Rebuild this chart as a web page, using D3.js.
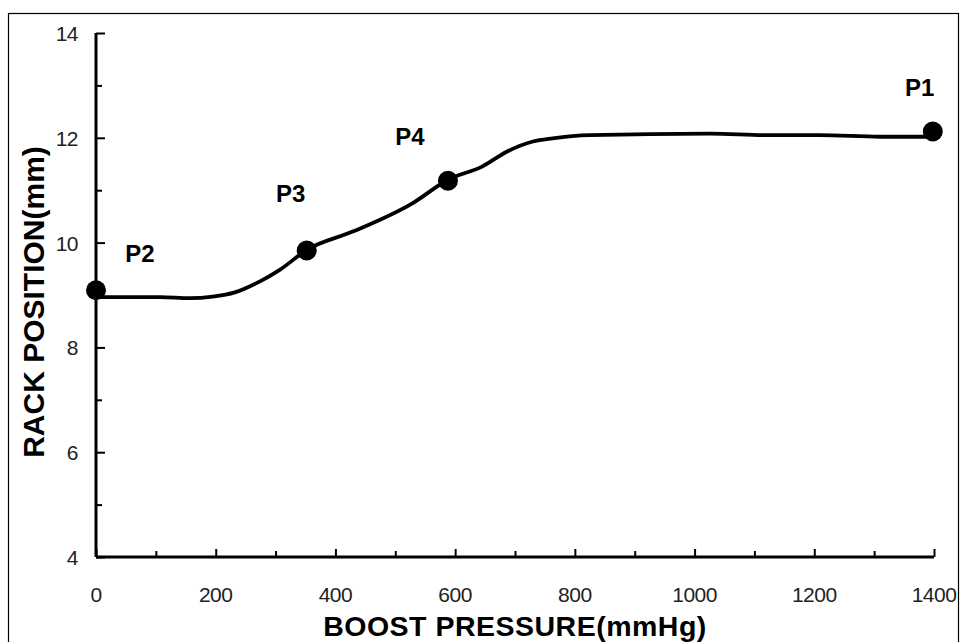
<!DOCTYPE html>
<html><head><meta charset="utf-8">
<script src="https://cdn.jsdelivr.net/npm/d3@7"></script>
<style>body{margin:0;background:#fff}svg{display:block}</style>
</head><body>
<svg id="c" width="963" height="642"></svg>
<script>
const curveX = [0,107,157,195,232,274,307,352,429,530,588,645,687,730,763,825,1026,1121,1209,1310,1398];
const curveY = [8.96,8.96,8.94,8.97,9.05,9.26,9.48,9.86,10.21,10.76,11.20,11.45,11.74,11.93,11.99,12.05,12.08,12.05,12.05,12.02,12.02];
const pointNames = ["P1","P2","P3","P4"];
const pointX = [1398,0,352,588];
const pointY = [12.12,9.09,9.85,11.18];
const xTicks = [0,200,400,600,800,1000,1200,1400];
const yTicks = [4,6,8,10,12,14];
const xTitle = "BOOST PRESSURE(mmHg)";
const yTitle = "RACK POSITION(mm)";

const svg = d3.select("#c");
svg.append("rect").attr("x",8.5).attr("y",13.5).attr("width",950).attr("height",700)
  .attr("fill","none").attr("stroke","#000").attr("stroke-width",1.2);

const x = d3.scaleLinear().domain([0,1400]).range([96,934]);
const y = d3.scaleLinear().domain([4,14]).range([557,33]);

const tickFont = "'Liberation Sans', Arial, sans-serif";
// x axis
const gx = svg.append("g").attr("transform","translate(0,557)");
gx.call(d3.axisTop(x).tickValues(d3.range(0,1401,100)).tickSize(7).tickFormat(""));
gx.select(".domain").attr("stroke-width",3).attr("d",`M${x(0)},0H${x(1400)}`);
gx.selectAll(".tick line").attr("stroke-width",2).attr("y2",d=>d%200===0?-8:-6);
svg.append("g").selectAll("text").data(xTicks).join("text")
  .attr("x",d=>x(d)).attr("y",602).attr("text-anchor","middle")
  .attr("font-family",tickFont).attr("font-size",21).attr("fill","#222")
  .attr("letter-spacing",-0.5).text(d=>d);

// y axis
const gy = svg.append("g").attr("transform","translate(96,0)");
gy.call(d3.axisRight(y).tickValues(d3.range(4,14.01,1)).tickSize(8).tickFormat(""));
gy.select(".domain").attr("stroke-width",3).attr("d",`M0,${y(4)}V${y(14)}`);
gy.selectAll(".tick line").attr("stroke-width",2).attr("x2",d=>d%2===0?9:6);
svg.append("g").selectAll("text").data(yTicks).join("text")
  .attr("x",78).attr("y",d=>y(d)+8).attr("text-anchor","end")
  .attr("font-family",tickFont).attr("font-size",21).attr("fill","#222")
  .attr("letter-spacing",-0.5).text(d=>d);

// titles
svg.append("text").attr("x",515).attr("y",636).attr("text-anchor","middle")
  .attr("font-family",tickFont).attr("font-weight","bold").attr("font-size",28.5)
  .attr("letter-spacing",0.5).attr("fill","#000").text(xTitle);
svg.append("text").attr("transform","translate(44,302) rotate(-90)").attr("text-anchor","middle")
  .attr("font-family",tickFont).attr("font-weight","bold").attr("font-size",30)
  .attr("fill","#000").text(yTitle);

// curve
const line = d3.line().x(d=>x(d[0])).y(d=>y(d[1])).curve(d3.curveMonotoneX);
svg.append("path").datum(curveX.map((v,i)=>[v,curveY[i]]))
  .attr("d",line).attr("fill","none").attr("stroke","#000").attr("stroke-width",3.8)
  .attr("stroke-linejoin","round");

// points
svg.append("g").selectAll("circle").data(pointX).join("circle")
  .attr("cx",d=>x(d)).attr("cy",(d,i)=>y(pointY[i])).attr("r",10).attr("fill","#000");

const labelDX = [-13, 44, -16, -38];
const labelDY = [-36, -28, -48, -36];
svg.append("g").selectAll("text").data(pointNames).join("text")
  .attr("x",(d,i)=>x(pointX[i])+labelDX[i]).attr("y",(d,i)=>y(pointY[i])+labelDY[i])
  .attr("text-anchor","middle").attr("font-family",tickFont).attr("font-weight","bold")
  .attr("font-size",24).attr("fill","#000").text(d=>d);
</script>
</body></html>
